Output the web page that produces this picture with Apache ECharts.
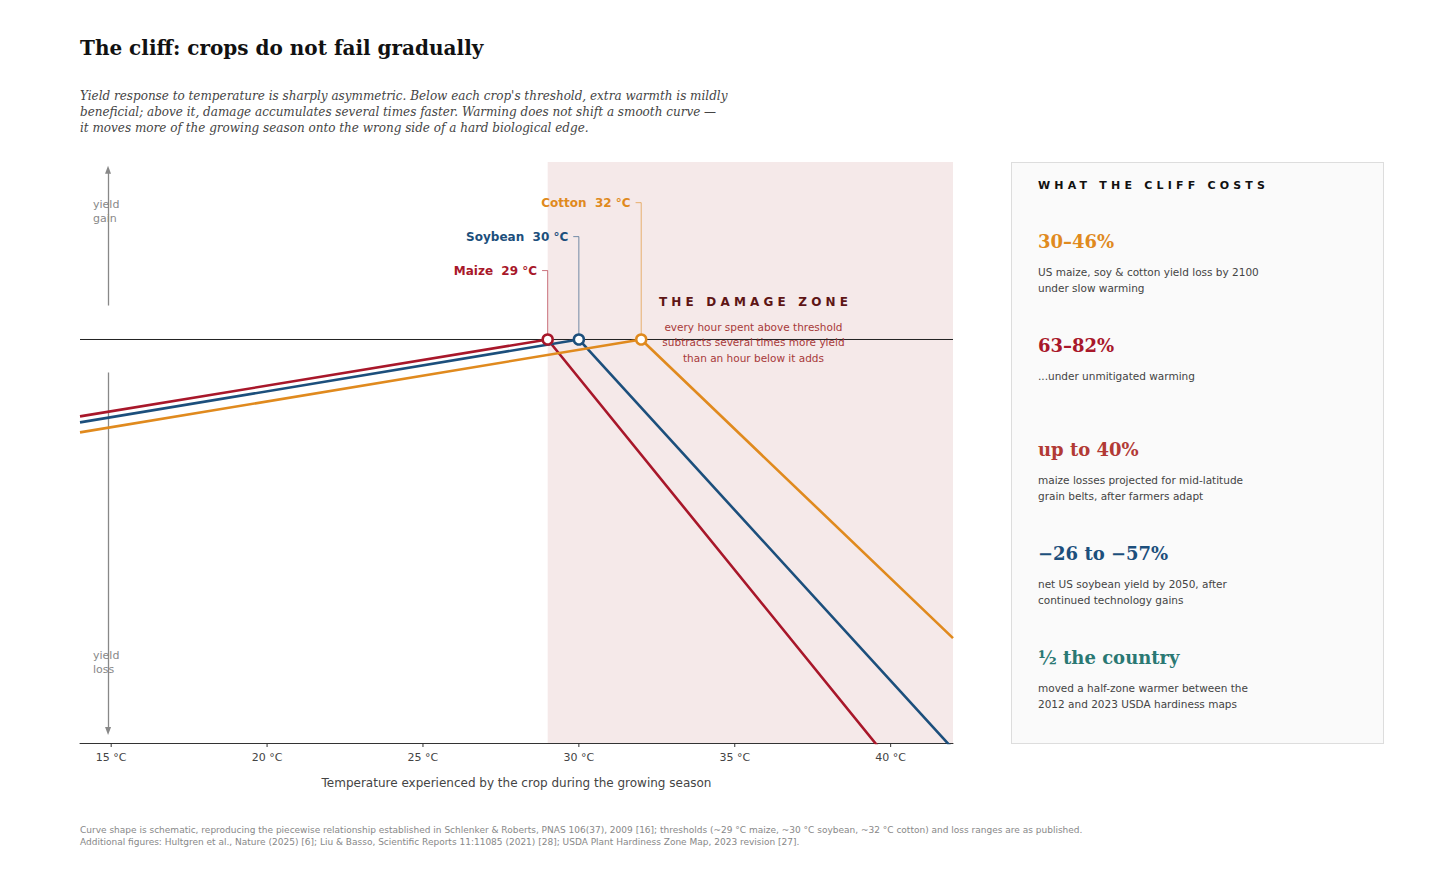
<!DOCTYPE html>
<html>
<head>
<meta charset="utf-8">
<script src="https://cdn.jsdelivr.net/npm/echarts@6/dist/echarts.min.js"></script>
<style>
  body { margin: 0; background: #fff; width: 1456px; height: 880px; position: relative; overflow: hidden; font-family: 'DejaVu Sans', sans-serif; }
  #title { position: absolute; left: 80px; top: 36px; font: bold 20px 'DejaVu Serif', serif; color: #111; }
  #sub { position: absolute; left: 80px; top: 88px; width: 680px; font: italic 12px/16px 'DejaVu Serif', serif; color: #444; }
  #chart { position: absolute; left: 0; top: 0; width: 1000px; height: 880px; }
  #panel { position: absolute; left: 1011px; top: 162px; width: 371px; height: 580px; background: #fafafa; border: 1px solid #ddd; }
  #panel .head { position: absolute; left: 26px; top: 16px; font: bold 11px 'DejaVu Sans', sans-serif; letter-spacing: 4.2px; color: #111; white-space: nowrap; }
  #panel .stat { position: absolute; left: 26px; font: bold 18px 'DejaVu Serif', serif; white-space: nowrap; }
  #panel .desc { position: absolute; left: 26px; font: 10.5px/16px 'DejaVu Sans', sans-serif; color: #444; white-space: nowrap; }
  #foot { position: absolute; left: 80px; top: 824px; font: 9px/12px 'DejaVu Sans', sans-serif; color: #888; white-space: nowrap; }
</style>
</head>
<body>
<div id="title">The cliff: crops do not fail gradually</div>
<div id="sub">Yield response to temperature is sharply asymmetric. Below each crop's threshold, extra warmth is mildly beneficial; above it, damage accumulates several times faster. Warming does not shift a smooth curve —<br>it moves more of the growing season onto the wrong side of a hard biological edge.</div>
<div id="chart"></div>
<div id="panel"></div>
<div id="foot">Curve shape is schematic, reproducing the piecewise relationship established in Schlenker &amp; Roberts, PNAS 106(37), 2009 [16]; thresholds (~29 °C maize, ~30 °C soybean, ~32 °C cotton) and loss ranges are as published.<br>Additional figures: Hultgren et al., Nature (2025) [6]; Liu &amp; Basso, Scientific Reports 11:11085 (2021) [28]; USDA Plant Hardiness Zone Map, 2023 revision [27].</div>
<script>
// temperature (°C) vs schematic yield change
var maize   = [[14, -7.7], [29, 0], [42, -50.0]];
var soybean = [[14, -8.3], [30, 0], [42, -41.0]];
var cotton  = [[14, -9.3], [32, 0], [42, -29.9]];
var baseline = [[14, 0], [42, 0]];
var tickTemps = [15, 20, 25, 30, 35, 40];
var zoneFrom = 29, zoneTo = 42;
var yMin = -40.4, yMax = 17.77;

// leader lines from each threshold point up to its label
var maizeLead   = [[29, 0], [29, 6.9], [28.82, 6.9]];
var soybeanLead = [[30, 0], [30, 10.3], [29.82, 10.3]];
var cottonLead  = [[32, 0], [32, 13.7], [31.82, 13.7]];

var gainArrow = [[14.9, 3.4], [14.9, 17.0]];
var lossArrow = [[14.9, -3.3], [14.9, -39.2]];

var stats = [
  { big: '30–46%', color: '#e08a1e', text: 'US maize, soy &amp; cotton yield loss by 2100<br>under slow warming' },
  { big: '63–82%', color: '#a8172a', text: '...under unmitigated warming' },
  { big: 'up to 40%', color: '#b23a35', text: 'maize losses projected for mid-latitude<br>grain belts, after farmers adapt' },
  { big: '−26 to −57%', color: '#1c4f7c', text: 'net US soybean yield by 2050, after<br>continued technology gains' },
  { big: '½ the country', color: '#2a7873', text: 'moved a half-zone warmer between the<br>2012 and 2023 USDA hardiness maps' }
];

var panel = document.getElementById('panel');
var h = '<div class="head">WHAT THE CLIFF COSTS</div>';
for (var i = 0; i < stats.length; i++) {
  var y0 = 68 + i * 104;
  h += '<div class="stat" style="top:' + y0 + 'px;color:' + stats[i].color + '">' + stats[i].big + '</div>';
  h += '<div class="desc" style="top:' + (y0 + 33) + 'px">' + stats[i].text + '</div>';
}
panel.innerHTML = h;

var RED = '#a8172a', BLUE = '#1c4f7c', ORANGE = '#e08a1e';

function crop(name, data, color) {
  return { name: name, type: 'line', data: data, symbol: 'none', z: 5,
    lineStyle: { color: color, width: 2.6 } };
}
function lead(data, color) {
  return { type: 'line', data: data, symbol: 'none', z: 3, silent: true,
    lineStyle: { color: color, width: 1, opacity: 0.6 } };
}
function textAt(pos, text, style) {
  style.show = true;
  style.formatter = text;
  style.opacity = 1;
  style.fontFamily = 'DejaVu Sans';
  return { type: 'scatter', data: [pos], symbolSize: 0, silent: true, z: 6,
    itemStyle: { opacity: 1 }, label: style };
}
function leadLabel(data, color, text) {
  return textAt(data[data.length - 1], text,
    { position: 'left', distance: 5, color: color, fontSize: 12, fontWeight: 'bold' });
}
function dot(x, color) {
  return { type: 'scatter', data: [[x, 0]], symbolSize: 10, z: 10,
    itemStyle: { color: '#fff', borderColor: color, borderWidth: 2.5, opacity: 1 } };
}
function arrow(data) {
  return { type: 'line', data: [], silent: true,
    markLine: { silent: true, symbol: ['none', 'triangle'], symbolSize: [6, 8],
      lineStyle: { color: '#888', width: 1.3, type: 'solid' }, label: { show: false },
      data: [[{ coord: data[0] }, { coord: data[1] }]] } };
}

var chart = echarts.init(document.getElementById('chart'), null, { renderer: 'svg' });
chart.setOption({
  animation: false,
  grid: { left: 80, right: 47, top: 162, bottom: 137 },
  xAxis: {
    type: 'value', min: 14, max: 42,
    name: 'Temperature experienced by the crop during the growing season',
    nameLocation: 'middle', nameGap: 34,
    nameTextStyle: { color: '#444', fontSize: 12, fontFamily: 'DejaVu Sans' },
    axisLine: { onZero: false, lineStyle: { color: '#333', width: 1 } },
    axisTick: { show: false },
    axisLabel: { customValues: tickTemps, formatter: '{value} °C', color: '#444', fontSize: 11, margin: 9,
      fontFamily: 'DejaVu Sans' },
    splitLine: { show: false }
  },
  yAxis: { type: 'value', min: yMin, max: yMax, show: false, splitLine: { show: false } },
  graphic: [
    { type: 'text', left: 93, top: 197, style: { text: 'yield\ngain', fill: '#888', font: '11px DejaVu Sans', lineHeight: 14 } },
    { type: 'text', left: 93, top: 648, style: { text: 'yield\nloss', fill: '#888', font: '11px DejaVu Sans', lineHeight: 14 } }
  ],
  series: [
    { type: 'line', data: [], z: 1, silent: true,
      markArea: { silent: true, itemStyle: { color: '#f5e9e9' },
        data: [[{ xAxis: zoneFrom }, { xAxis: zoneTo }]] } },
    { type: 'line', data: baseline, symbol: 'none', z: 4, silent: true,
      lineStyle: { color: '#222', width: 1 } },
    // x-axis tick marks at the labelled temperatures
    { type: 'scatter', silent: true, clip: false, z: 4,
      data: tickTemps.map(function (t) { return [t, yMin]; }),
      symbol: 'rect', symbolSize: [1, 4], symbolOffset: [0, 2],
      itemStyle: { color: '#333', opacity: 1 } },
    arrow(gainArrow),
    arrow(lossArrow),
    lead(maizeLead, RED), lead(soybeanLead, BLUE), lead(cottonLead, ORANGE),
    leadLabel(maizeLead, RED, 'Maize  29 °C'),
    leadLabel(soybeanLead, BLUE, 'Soybean  30 °C'),
    leadLabel(cottonLead, ORANGE, 'Cotton  32 °C'),
    crop('Maize', maize, RED),
    crop('Soybean', soybean, BLUE),
    crop('Cotton', cotton, ORANGE),
    dot(29, RED), dot(30, BLUE), dot(32, ORANGE),
    textAt([35.6, 3.8], 'T H E   D A M A G E   Z O N E',
      { position: 'inside', color: '#5e1515', fontSize: 12, fontWeight: 'bold' }),
    textAt([35.6, -0.3], 'every hour spent above threshold\nsubtracts several times more yield\nthan an hour below it adds',
      { position: 'inside', align: 'center', color: '#a83a3a', fontSize: 10.5, lineHeight: 15.5 })
  ]
});
</script>
</body>
</html>
